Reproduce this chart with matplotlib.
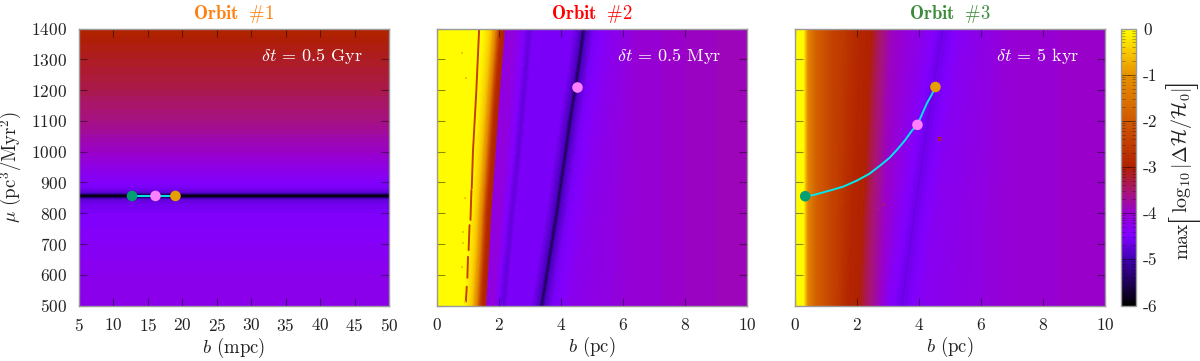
import numpy as np
import matplotlib
matplotlib.use("Agg")
from matplotlib import pyplot as plt
from matplotlib.cm import ScalarMappable
from matplotlib.colors import LinearSegmentedColormap, Normalize

plt.rcParams['font.family'] = 'cmr10'
plt.rcParams['mathtext.fontset'] = 'cm'
plt.rcParams['axes.unicode_minus'] = False
plt.rcParams['axes.formatter.use_mathtext'] = True
plt.rcParams['font.size'] = 12.5

# panel 1: value only depends on mu
mu1 = [500, 600, 700, 800, 830, 846, 851, 854, 856, 858, 861, 866, 882, 920, 1000, 1100, 1200, 1300, 1400]
val1 = [-4.25, -4.3, -4.4, -4.5, -4.6, -4.8, -5.4, -5.85, -6.0, -5.85, -5.4, -4.8, -4.55, -4.35, -3.95, -3.6, -3.35, -3.15, -2.95]
b1_range = [5, 50]

mu_rows = [500, 600, 700, 800, 900, 1000, 1100, 1200, 1300, 1400]
edge2 = [1.55, 1.61, 1.67, 1.72, 1.79, 1.86, 1.93, 2.00, 2.08, 2.16]
faint2 = [2.14, 2.23, 2.33, 2.42, 2.53, 2.63, 2.72, 2.81, 2.90, 2.98]
dark2 = [3.38, 3.54, 3.70, 3.86, 4.00, 4.15, 4.29, 4.45, 4.60, 4.73]
red3 = [2.00, 2.04, 2.08, 2.12, 2.17, 2.21, 2.26, 2.30, 2.35, 2.40]
ridge3 = [3.45, 3.58, 3.72, 3.85, 4.00, 4.14, 4.30, 4.45, 4.60, 4.77]

# (feature, offset in b, value) going left to right
profile2 = [(None, 0, 0), ('edge', -1.0, 0), ('edge', -0.7, -0.05), ('edge', -0.55, -0.3),
            ('edge', -0.45, -0.5), ('edge', -0.3, -1.1), ('edge', -0.2, -2.2),
            ('edge', -0.12, -2.8), ('edge', 0, -3.0), ('edge', 0.04, -4.3), ('edge', 0.25, -4.1),
            ('faint', -0.2, -4.45), ('faint', -0.03, -4.72), ('faint', 0.03, -4.72), ('faint', 0.15, -4.5),
            ('dark', -0.35, -4.55), ('dark', -0.1, -4.9), ('dark', -0.03, -5.4), ('dark', 0, -6.0),
            ('dark', 0.03, -5.4), ('dark', 0.1, -4.9), ('dark', 0.35, -4.55), ('dark', 1.0, -4.3),
            (None, 6.5, -4.05), (None, 8, -3.95), (None, 10, -3.85)]
profile3 = [(None, 0, 0), (None, 0.28, 0), (None, 0.34, -0.6), (None, 0.45, -1.3), (None, 0.7, -1.9),
            (None, 1.2, -2.4), ('red', -0.3, -2.9), ('red', 0.05, -3.0), ('red', 0.2, -3.3), ('red', 0.7, -3.9),
            ('ridge', -0.5, -4.35), ('ridge', -0.06, -4.6), ('ridge', 0, -4.75), ('ridge', 0.06, -4.6),
            ('ridge', 0.7, -4.35), (None, 7, -4.05), (None, 10, -3.95)]

# red streak inside the yellow part of panel 2
streak_b = [[1.36, 1.27, 1.16, 1.12], [1.11, 1.08], [1.05, 1.02], [1.00, 0.98], [0.96, 0.93]]
streak_mu = [[1400, 1200, 1000, 880], [875, 778], [761, 680], [658, 590], [561, 512]]
dots2_b = [0.90, 0.85, 0.85, 0.80, 0.90, 0.82, 0.93]
dots2_mu = [848, 740, 703, 626, 512, 1320, 1239]

# orbit points
orbit1_b = [12.7, 16.1, 19.0]
orbit1_mu = [856, 856, 856]
orbit2_b = [4.51]
orbit2_mu = [1210]
curve3_b = [0.33, 0.6, 1.14, 1.55, 2.00, 2.4, 2.75, 3.05, 3.29, 3.55, 3.77, 3.95, 4.1, 4.26, 4.4, 4.53]
curve3_mu = [855, 859, 874, 886, 906, 928, 955, 980, 1006, 1037, 1068, 1087, 1122, 1158, 1183, 1210]
orbit3_b = [0.33, 3.95, 4.53]
orbit3_mu = [855, 1087, 1210]
specks_b = [4.66, 2.86, 2.65]
specks_mu = [1041, 829, 815]

titles = ['Orbit\\ \\ \\#1', 'Orbit\\ \\ \\#2', 'Orbit\\ \\ \\#3']
title_colors = ['#ff7f0e', '#ff0000', '#3c8c3c']
dt_labels = ['$\\delta t$ = 0.5 Gyr', '$\\delta t$ = 0.5 Myr', '$\\delta t$ = 5 kyr']
xlabels = ['$b$ (mpc)', '$b$ (pc)', '$b$ (pc)']
cbar_ticks = [0, -1, -2, -3, -4, -5, -6]

GREEN, PINK, ORANGE, CYAN = '#009e73', '#ff80ff', '#e69f00', '#00e8f0'
INK = '#222222'

cmap = LinearSegmentedColormap.from_list('energy', [
    (0.0, '#000000'), (1/6, '#4000b0'), (1.5/6, '#8000ff'), (2/6, '#9800d0'),
    (2.5/6, '#a8156f'), (3/6, '#b02000'), (4/6, '#d05800'), (5/6, '#e69000'),
    (5.5/6, '#f8c800'), (1.0, '#ffff00')])
norm = Normalize(-6, 0)
levels = np.linspace(-6, 0, 121)


def build_mesh(profile, anchors):
    xx, zz = [], []
    for name, off, v in profile:
        if name is None:
            xx.append(np.full(len(mu_rows), off, dtype=float))
        else:
            xx.append(np.array(anchors[name]) + off)
        zz.append(np.full(len(mu_rows), v, dtype=float))
    yy = np.tile(mu_rows, (len(profile), 1))
    return np.array(xx).T, yy.T, np.array(zz).T


def px_axes(x0, x1):
    return fig.add_axes([x0 / 1200, 1 - 305.5 / 361, (x1 - x0) / 1200, 277 / 361])


fig = plt.figure(figsize=(12, 3.61), dpi=100)
ax1 = px_axes(79, 389)
ax2 = px_axes(437, 747)
ax3 = px_axes(795, 1105)
axes = [ax1, ax2, ax3]

X1, Y1 = np.meshgrid(b1_range, mu1)
Z1 = np.column_stack([val1, val1])
ax1.contourf(X1, Y1, Z1, levels=levels, cmap=cmap, norm=norm, extend='both')

X2, Y2, Z2 = build_mesh(profile2, {'edge': edge2, 'faint': faint2, 'dark': dark2})
ax2.contourf(X2, Y2, Z2, levels=levels, cmap=cmap, norm=norm, extend='both')
for sb, sm in zip(streak_b, streak_mu):
    ax2.plot(sb, sm, color='#c83c08', lw=1.4, solid_capstyle='round')
ax2.scatter(dots2_b, dots2_mu, s=3, marker='s', color='#f4c800', linewidths=0, zorder=3)

X3, Y3, Z3 = build_mesh(profile3, {'red': red3, 'ridge': ridge3})
ax3.contourf(X3, Y3, Z3, levels=levels, cmap=cmap, norm=norm, extend='both')
ax3.scatter(specks_b, specks_mu, s=5, marker='s', color=['#b82020', '#a01878', '#a01890'], linewidths=0, zorder=3)

ms = 58
ax1.plot(orbit1_b, orbit1_mu, color=CYAN, lw=1.4, zorder=4)
ax1.scatter(orbit1_b, orbit1_mu, s=ms, c=[GREEN, PINK, ORANGE], linewidths=0, zorder=5)
ax2.scatter(orbit2_b, orbit2_mu, s=ms, c=[PINK], linewidths=0, zorder=5)
ax3.plot(curve3_b, curve3_mu, color=CYAN, lw=1.4, zorder=4)
ax3.scatter(orbit3_b, orbit3_mu, s=ms, c=[GREEN, PINK, ORANGE], linewidths=0, zorder=5)

for i, ax in enumerate(axes):
    ax.set_ylim(500, 1400)
    ax.set_yticks(range(500, 1401, 100))
    if i == 0:
        ax.set_xlim(5, 50)
        ax.set_xticks(range(5, 51, 5))
    else:
        ax.set_xlim(0, 10)
        ax.set_xticks(range(0, 11, 2))
        ax.set_yticklabels([])
    ax.tick_params(direction='in', length=6, width=0.8, color=(0, 0, 0, 0.45),
                   top=True, right=True, pad=8.5, labelcolor=INK)
    for s in ax.spines.values():
        s.set_color('#9a9a9a')
        s.set_linewidth(1.0)
    ax.set_title('$\\mathbf{' + titles[i] + '}$', color=title_colors[i], fontsize=13.5, pad=7)
    ax.set_xlabel(xlabels[i], fontsize=13.5, color=INK, labelpad=1)
    ax.text(1 - 26 / 310, 0.90, dt_labels[i], transform=ax.transAxes, color='white',
            ha='right', va='center', fontsize=13)

ax1.set_ylabel('$\\mu$ (pc$^3$/Myr$^2$)', fontsize=13.5, color=INK)
ax1.yaxis.set_label_coords(-55 / 310, 0.5)

cax = fig.add_axes([1121 / 1200, 1 - 305.5 / 361, 15 / 1200, 277 / 361])
cbar = fig.colorbar(ScalarMappable(norm=norm, cmap=cmap), cax=cax)
cbar.set_ticks(cbar_ticks)
cbar.set_ticklabels([str(t) for t in cbar_ticks])
minor = [-k - 1 + np.log10(m) for k in range(6) for m in range(2, 10)]
cax.set_yticks(minor, minor=True)
cax.tick_params(which='major', direction='in', length=5.5, width=0.7, color=(0, 0, 0, 0.45),
                left=True, right=True, pad=5, labelcolor=INK)
cax.tick_params(which='minor', direction='in', length=3, width=0.5, color=(0, 0, 0, 0.4),
                left=True, right=True)
cbar.outline.set_edgecolor('#9a9a9a')
cbar.outline.set_linewidth(1.0)

# colourbar label, the big brackets are separate since mathtext keeps them small
lab_x = 1182 / 1200
fig.text(lab_x, 1 - 241 / 361, 'max', rotation=90, ha='center', va='center', fontsize=14, color=INK)
fig.text(lab_x, 1 - 150 / 361, '$\\log_{10}|\\Delta\\mathcal{H}/\\mathcal{H}_0|$', rotation=90,
         ha='center', va='center', fontsize=14.5, color=INK)
fig.text(lab_x, 1 - 216 / 361, '[', rotation=90, ha='center', va='center', fontsize=24, color=INK)
fig.text(lab_x, 1 - 84 / 361, ']', rotation=90, ha='center', va='center', fontsize=24, color=INK)

fig.savefig('out.png', dpi=100)
